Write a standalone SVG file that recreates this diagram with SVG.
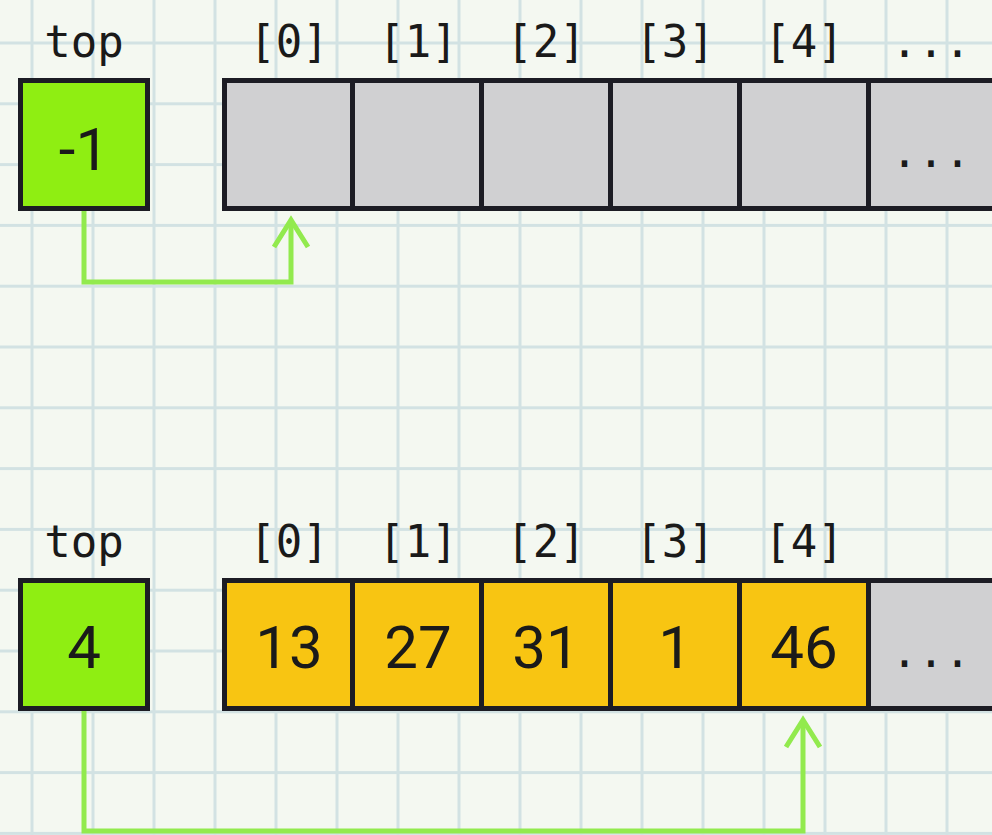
<svg xmlns="http://www.w3.org/2000/svg" width="992" height="835" viewBox="0 0 992 835">
<defs>
<pattern id="grid" x="1.5" y="12.6" width="61" height="60.8" patternUnits="userSpaceOnUse">
<path d="M0 30.4 H61 M30.5 0 V60.8" fill="none" stroke="#d2e2e3" stroke-width="3"/>
</pattern>
</defs>
<style>
.lbl{font-family:"DejaVu Sans Mono","Liberation Mono",monospace;font-size:44px;fill:#1a1a1a;text-anchor:middle}
.num{font-family:Roboto,"Liberation Sans",sans-serif;font-size:60px;fill:#1a1a1a;text-anchor:middle}
.box{stroke:#1c1c24;stroke-width:5}
.green{fill:#8fee12}
.gray{fill:#d0d0d2}
.orange{fill:#f8c512}
.div{stroke:#1c1c24;stroke-width:5}
.arrow{fill:none;stroke:#92ea4e;stroke-width:5;stroke-linejoin:miter;stroke-linecap:butt}
</style>
<rect width="992" height="835" fill="#f4f8f1"/>
<rect width="992" height="835" fill="url(#grid)"/>

<g id="connectors">
<path class="arrow" d="M84 211 V282 H291 V221"/>
<path class="arrow" d="M274 247 L291 220 L308 247"/>
<path class="arrow" d="M84 711 V831 H803 V721"/>
<path class="arrow" d="M786 747 L803 720 L820 747"/>
</g>

<g id="top1">
<text class="lbl" x="84" y="57">top</text>
<rect class="box green" x="20.5" y="80.5" width="127" height="128"/>
<text class="num" x="84" y="170">-1</text>
</g>

<g id="array1">
<rect class="box gray" x="224.5" y="80.5" width="900" height="128"/>
<line class="div" x1="352.5" y1="80" x2="352.5" y2="209"/>
<line class="div" x1="481.5" y1="80" x2="481.5" y2="209"/>
<line class="div" x1="610.5" y1="80" x2="610.5" y2="209"/>
<line class="div" x1="739.5" y1="80" x2="739.5" y2="209"/>
<line class="div" x1="868.5" y1="80" x2="868.5" y2="209"/>
<text class="lbl" x="289" y="57">[0]</text>
<text class="lbl" x="418" y="57">[1]</text>
<text class="lbl" x="546" y="57">[2]</text>
<text class="lbl" x="675" y="57">[3]</text>
<text class="lbl" x="804" y="57">[4]</text>
<text class="lbl" x="931" y="57">...</text>
<text class="lbl" x="931" y="167">...</text>
</g>

<g id="top2">
<text class="lbl" x="84" y="557">top</text>
<rect class="box green" x="20.5" y="580.5" width="127" height="128"/>
<text class="num" x="84" y="668">4</text>
</g>

<g id="array2">
<rect class="box gray" x="224.5" y="580.5" width="900" height="128"/>
<rect class="orange" x="227" y="583" width="639" height="123"/>
<line class="div" x1="352.5" y1="580" x2="352.5" y2="709"/>
<line class="div" x1="481.5" y1="580" x2="481.5" y2="709"/>
<line class="div" x1="610.5" y1="580" x2="610.5" y2="709"/>
<line class="div" x1="739.5" y1="580" x2="739.5" y2="709"/>
<line class="div" x1="868.5" y1="580" x2="868.5" y2="709"/>
<text class="lbl" x="289" y="557">[0]</text>
<text class="lbl" x="418" y="557">[1]</text>
<text class="lbl" x="546" y="557">[2]</text>
<text class="lbl" x="675" y="557">[3]</text>
<text class="lbl" x="804" y="557">[4]</text>
<text class="num" x="289" y="668">13</text>
<text class="num" x="418" y="668">27</text>
<text class="num" x="546" y="668">31</text>
<text class="num" x="675" y="668">1</text>
<text class="num" x="804" y="668">46</text>
<text class="lbl" x="931" y="667">...</text>
</g>
</svg>
